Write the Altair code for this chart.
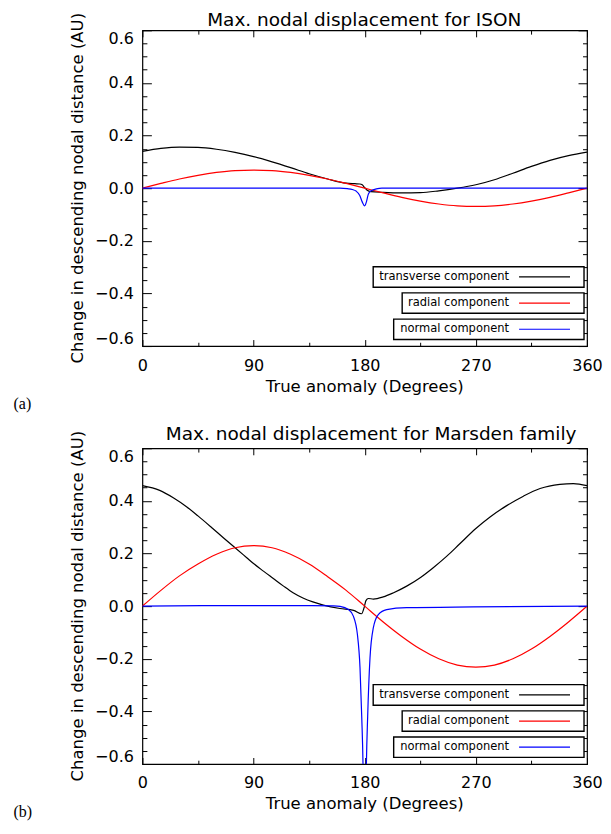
import altair as alt
import pandas as pd

# ---------------- data ----------------
# (a) ISON
ison_transverse_deg = [0, 15, 30, 45, 60, 75, 90, 105, 120, 135, 150, 165, 172, 176, 178, 180, 182, 185,
                       195, 210, 225, 240, 255, 270, 285, 300, 315, 330, 345, 360]
ison_transverse_val = [0.140, 0.151, 0.156, 0.155, 0.148, 0.136, 0.120, 0.100, 0.078, 0.055, 0.035, 0.019,
                       0.017, 0.016, 0.013, 0.002, -0.008, -0.013, -0.016, -0.018, -0.017, -0.010, 0.000,
                       0.013, 0.032, 0.057, 0.083, 0.106, 0.124, 0.137]

ison_radial_deg = [0, 15, 30, 45, 60, 75, 90, 105, 120, 135, 150, 165, 180, 195, 210, 225, 240, 255, 270,
                   285, 300, 315, 330, 345, 360]
ison_radial_val = [0.000, 0.018, 0.035, 0.049, 0.060, 0.067, 0.069, 0.067, 0.060, 0.049, 0.035, 0.018, 0.000,
                   -0.018, -0.035, -0.049, -0.060, -0.067, -0.069, -0.067, -0.060, -0.049, -0.035, -0.018, 0.000]

ison_normal_deg = [0, 90, 160, 166, 170, 173, 176, 178, 180, 181.5, 183, 185.5, 189.5, 194, 270, 360]
ison_normal_val = [0.000, 0.000, 0.000, -0.002, -0.005, -0.011, -0.028, -0.052, -0.067, -0.050, -0.022,
                   -0.009, -0.0025, 0.000, 0.000, 0.000]

# (b) Marsden family
marsden_transverse_deg = [0, 14, 25, 36, 45, 56, 66, 76, 84.5, 90, 98, 106, 114, 122, 130, 138, 146.5, 160,
                          171, 177.5, 179.5, 181, 183, 187, 195, 203, 214, 225.5, 235.5, 246.5, 257, 270,
                          281.5, 295, 308.5, 322, 338, 349, 360]
marsden_transverse_val = [0.458, 0.440, 0.412, 0.377, 0.343, 0.299, 0.258, 0.218, 0.184, 0.162, 0.133, 0.105,
                          0.077, 0.051, 0.031, 0.016, 0.004, -0.009, -0.016, -0.029, -0.006, 0.021, 0.029,
                          0.027, 0.035, 0.050, 0.076, 0.110, 0.146, 0.190, 0.237, 0.295, 0.339, 0.382,
                          0.418, 0.447, 0.463, 0.466, 0.458]

marsden_radial_deg = [0, 15, 30, 45, 60, 75, 90, 105, 120, 135, 150, 165, 180, 195, 210, 225, 240, 255, 270,
                      285, 300, 315, 330, 345, 360]
marsden_radial_val = [0.000, 0.060, 0.115, 0.160, 0.197, 0.222, 0.230, 0.222, 0.197, 0.160, 0.112, 0.060,
                      0.000, -0.060, -0.115, -0.163, -0.200, -0.224, -0.232, -0.224, -0.200, -0.163, -0.115,
                      -0.060, 0.000]

marsden_normal_deg = [0, 60, 120, 155, 160, 166.8, 170.8, 174.1, 176.2, 177.6, 178.7, 180, 181.3, 182.4,
                      184.3, 187, 191, 197.8, 214, 268, 360]
marsden_normal_val = [0.000, 0.002, 0.002, 0.001, -0.001, -0.013, -0.038, -0.108, -0.234, -0.420, -0.620,
                      -1.200, -0.620, -0.420, -0.196, -0.082, -0.032, -0.013, -0.006, -0.003, 0.000]

x_major = [0, 90, 180, 270, 360]
x_minor = [45, 135, 225, 315]
y_major = [-0.6, -0.4, -0.2, 0.0, 0.2, 0.4, 0.6]
y_minor = [-0.55, -0.5, -0.45, -0.35, -0.3, -0.25, -0.15, -0.1, -0.05,
           0.05, 0.1, 0.15, 0.25, 0.3, 0.35, 0.45, 0.5, 0.55]

legend_labels = ["transverse component", "radial component", "normal component"]
legend_colors = ["#000000", "#ff0000", "#0000ff"]

titles = ["Max. nodal displacement for ISON", "Max. nodal displacement for Marsden family"]
tags = ["(a)", "(b)"]
x_title = "True anomaly (Degrees)"
y_title = "Change in descending nodal distance (AU)"

# ---------------- layout / style ----------------
FONT = "DejaVu Sans"
W, H = 445, 316
xs = alt.Scale(domain=[0, 360], nice=False, zero=False)
ys = alt.Scale(domain=[-0.6, 0.6], nice=False, zero=False)

# legend boxes (pixel layout inside the plot area)
box_x1 = [231, 260, 251.5]
box_x2 = [442, 442, 442]
box_y1 = [236.6, 262.8, 289.0]
box_y2 = [257.2, 283.2, 309.4]
text_y = [246.8, 273.0, 299.2]

one = pd.DataFrame({"deg": [0.0], "value": [0.0]})
blank = pd.DataFrame({"k": [0]})


def tick_axis(orient, values, length):
    return alt.Axis(orient=orient, values=values, offset=-length, tickSize=length, ticks=True,
                    labels=False, domain=False, grid=False, title=None,
                    tickColor="black", tickWidth=1)


def tick_layer(xo, xv, xl, yo, yv, yl):
    return alt.Chart(one).mark_point(opacity=0).encode(
        x=alt.X("deg:Q", scale=xs, axis=tick_axis(xo, xv, xl)),
        y=alt.Y("value:Q", scale=ys, axis=tick_axis(yo, yv, yl)),
    )


label_x_axis = alt.Axis(values=x_major, format="d", ticks=False, tickSize=0, domain=False, grid=False,
                        title=None, labelFont=FONT, labelFontSize=16, labelColor="black",
                        labelPadding=11, labelFlush=False, labelOverlap=False)
label_y_axis = alt.Axis(values=y_major, format=".1f", ticks=False, tickSize=0, domain=False, grid=False,
                        title=None, labelFont=FONT, labelFontSize=16, labelColor="black",
                        labelPadding=9, labelFlush=True, labelOverlap=False)


def line(deg, val, color, with_axes=False):
    df = pd.DataFrame({"deg": deg, "value": val})
    return alt.Chart(df).mark_line(color=color, strokeWidth=1.2, clip=True, interpolate="monotone").encode(
        x=alt.X("deg:Q", scale=xs, axis=label_x_axis if with_axes else None),
        y=alt.Y("value:Q", scale=ys, axis=label_y_axis if with_axes else None),
    )


def text(t, x, y, size, align="center", angle=0, font=FONT):
    return alt.Chart(blank).mark_text(text=t, font=font, fontSize=size, align=align, baseline="middle",
                                      angle=angle, color="black").encode(x=alt.value(x), y=alt.value(y))


def panel(series, title, tag, title_x, title_y, tag_y):
    layers = []
    for i, (deg, val) in enumerate(series):
        layers.append(line(deg, val, legend_colors[i], with_axes=(i == 0)))
    layers += [
        tick_layer("bottom", x_major, 6.5, "left", y_major, 9),
        tick_layer("bottom", x_minor, 3.8, "left", y_minor, 4.5),
        tick_layer("top", x_major, 6.5, "right", y_major, 9),
        tick_layer("top", x_minor, 3.8, "right", y_minor, 4.5),
    ]
    for i in range(3):
        layers.append(alt.Chart(blank).mark_rect(fill="white", stroke="black", strokeWidth=1.4).encode(
            x=alt.value(box_x1[i]), x2=alt.value(box_x2[i]), y=alt.value(box_y1[i]), y2=alt.value(box_y2[i])))
        layers.append(text(legend_labels[i], 367, text_y[i], 11.5, align="right"))
        layers.append(alt.Chart(blank).mark_rule(color=legend_colors[i], strokeWidth=1.2).encode(
            x=alt.value(377), x2=alt.value(428), y=alt.value(text_y[i])))
    layers += [
        text(title, title_x, title_y, 18.5),
        text(x_title, W / 2, 356.5, 16.5),
        text(y_title, -64.5, H / 2, 16.5, angle=270),
        text(tag, -129, tag_y, 16, align="left", font="Liberation Serif"),
    ]
    return alt.layer(*layers).properties(width=W, height=H).resolve_axis(x="independent", y="independent")


top = panel([(ison_transverse_deg, ison_transverse_val),
             (ison_radial_deg, ison_radial_val),
             (ison_normal_deg, ison_normal_val)], titles[0], tags[0], 222, -10.4, 373.5)
bottom = panel([(marsden_transverse_deg, marsden_transverse_val),
                (marsden_radial_deg, marsden_radial_val),
                (marsden_normal_deg, marsden_normal_val)], titles[1], tags[1], 229, -14, 364.5)

chart = alt.vconcat(top, bottom, spacing=102.3, bounds="flush").properties(
    padding={"left": 4.5, "top": 2, "right": 0, "bottom": 0}
).configure_view(stroke="black", strokeWidth=1.2)

chart.save("out.html", embed_options={"renderer": "svg", "actions": False})
